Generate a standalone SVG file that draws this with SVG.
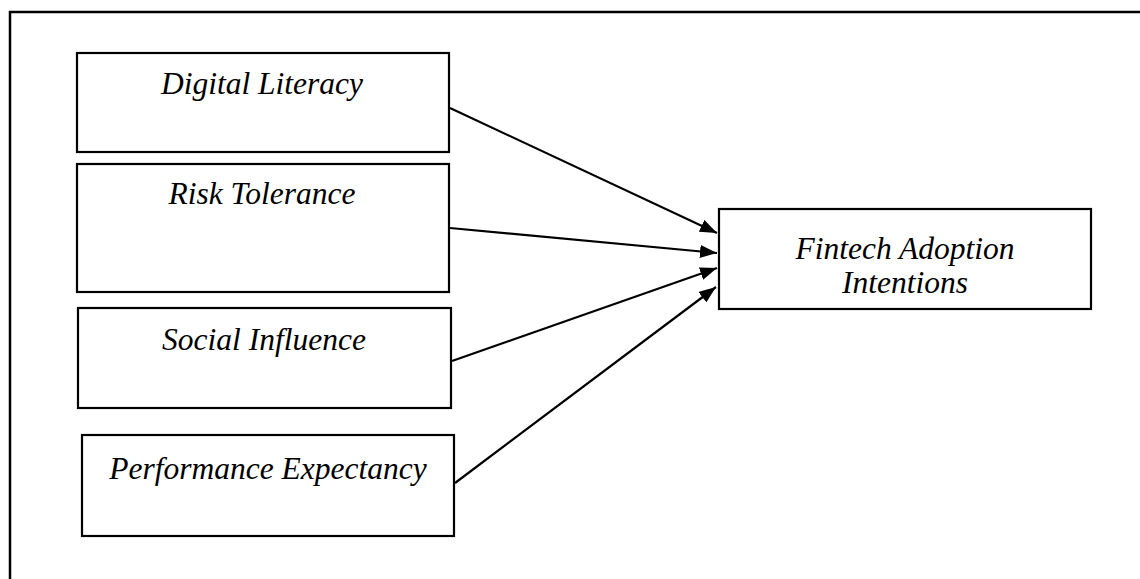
<svg xmlns="http://www.w3.org/2000/svg" width="1140" height="579" viewBox="0 0 1140 579">
<style>
.box{fill:#fff;stroke:#000;stroke-width:2.2}
.lbl{font-family:"Liberation Serif","Times New Roman",serif;font-style:italic;font-size:31.5px;fill:#000;text-anchor:middle}
.conn{stroke:#000;stroke-width:2.2;fill:none}
</style>
<defs>
<marker id="ah" markerUnits="userSpaceOnUse" markerWidth="17" markerHeight="13" refX="17" refY="6.5" orient="auto">
<path d="M0,0 L17,6.5 L0,13 z" fill="#000"/>
</marker>
</defs>
<rect width="1140" height="579" fill="#fff"/>
<path d="M10,579 V12 H1140" fill="none" stroke="#000" stroke-width="2.5"/>
<g id="digital-literacy">
<rect class="box" x="77" y="53" width="372" height="99"/>
<text class="lbl" x="262" y="94">Digital Literacy</text>
</g>
<g id="risk-tolerance">
<rect class="box" x="77" y="164" width="372" height="128"/>
<text class="lbl" x="262" y="204">Risk Tolerance</text>
</g>
<g id="social-influence">
<rect class="box" x="78" y="308" width="373" height="100"/>
<text class="lbl" x="264" y="350">Social Influence</text>
</g>
<g id="performance-expectancy">
<rect class="box" x="82" y="435" width="372" height="101"/>
<text class="lbl" x="268" y="479">Performance Expectancy</text>
</g>
<g id="fintech-adoption-intentions">
<rect class="box" x="719" y="209" width="372" height="100"/>
<text class="lbl" x="905" y="259">Fintech Adoption</text>
<text class="lbl" x="905" y="293">Intentions</text>
</g>
<g id="connectors">
<line class="conn" x1="450" y1="108" x2="717" y2="233" marker-end="url(#ah)"/>
<line class="conn" x1="450" y1="228" x2="717" y2="253" marker-end="url(#ah)"/>
<line class="conn" x1="452" y1="361" x2="717" y2="268" marker-end="url(#ah)"/>
<line class="conn" x1="455" y1="483" x2="716" y2="287" marker-end="url(#ah)"/>
</g>
</svg>
